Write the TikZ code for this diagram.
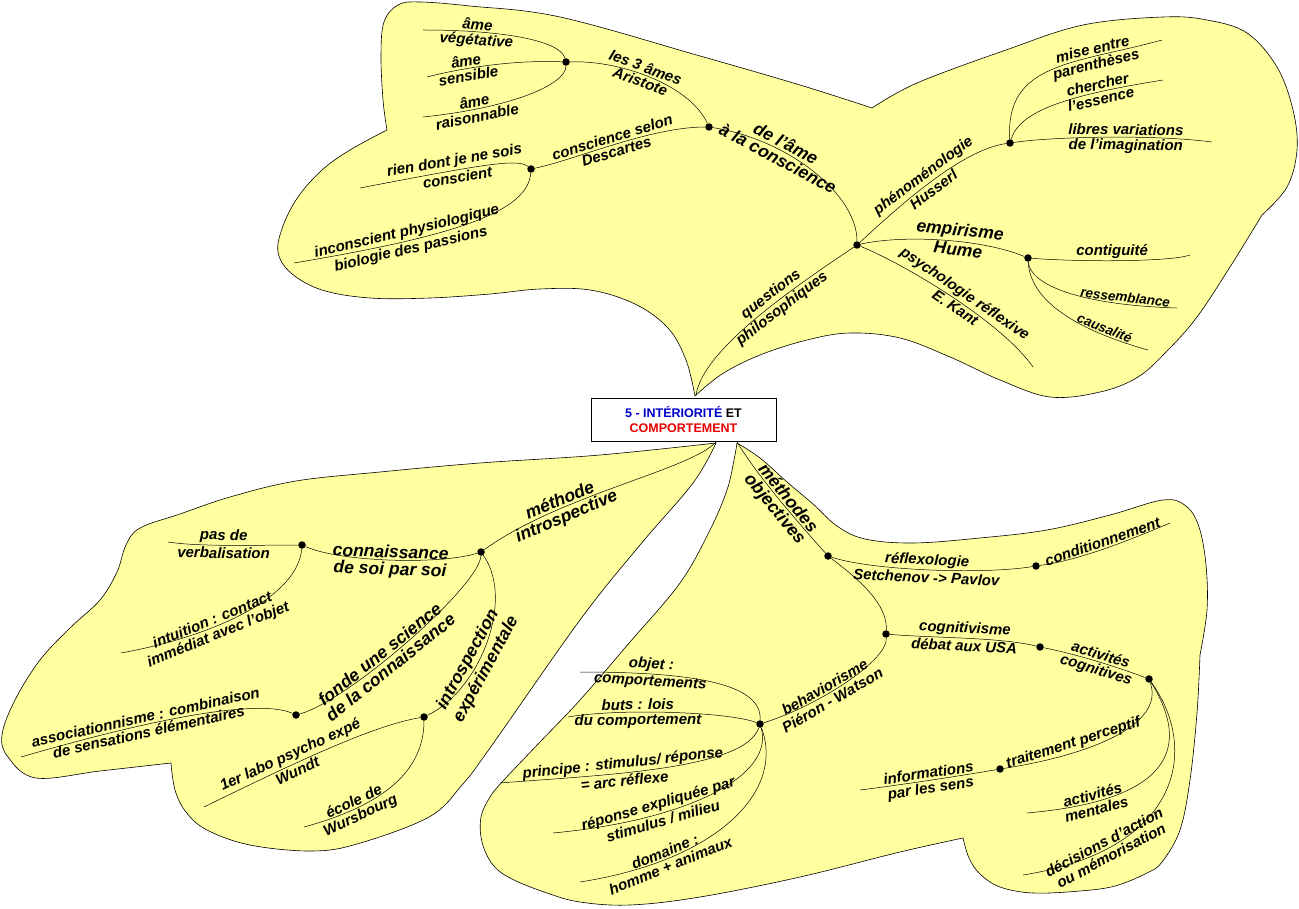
\documentclass[tikz,border=0pt]{standalone}
\usepackage{fontspec}
\setmainfont{Liberation Sans}

\definecolor{blobyellow}{RGB}{255,255,160}
\definecolor{titleblue}{RGB}{0,0,204}
\definecolor{titlered}{RGB}{230,0,0}
\newcommand{\lbl}{\fontsize{15}{16}\selectfont\bfseries\itshape}
\newcommand{\lblbig}{\fontsize{17.5}{18}\selectfont\bfseries\itshape}
\newcommand{\lblsmall}{\fontsize{13.5}{14}\selectfont\bfseries\itshape}

\begin{document}
\begin{tikzpicture}[x=1pt, y=-1pt,
  blob/.style={draw=black, fill=blobyellow, line width=0.6pt},
  branch/.style={line width=0.5pt},
  dot/.style={circle, fill=black, inner sep=0pt, minimum size=7.5pt},
  txtup/.style={sloped, above, inner sep=1.8pt, font=\lbl},
  txtdn/.style={sloped, below, inner sep=1.8pt, font=\lbl},
  big/.style={font=\lblbig},
  small/.style={font=\lblsmall}]
  \useasboundingbox (0,0) rectangle (1299,909);

  % yellow areas
  \filldraw[blob] plot[smooth, tension=0.6] coordinates {(695,396) (686,360) (668,328) (635,304) (590,290) (540,289) (490,294) (430,298) (370,298) (322,290) (291,273) (278,252) (283,226) (298,197) (322,170) (350,150) (387,130)}
    -- plot[smooth, tension=0.6] coordinates {(387,130) (383,100) (381,55) (384,22) (398,5) (420,2) (470,6) (560,17) (700,56) (800,85) (872,108)}
    -- plot[smooth, tension=0.6] coordinates {(872,108) (917,83) (1006,50) (1083,25) (1163,17) (1207,20) (1247,33) (1277,67) (1293,110) (1297,150) (1287,187) (1262,215)}
    -- plot[smooth, tension=0.6] coordinates {(1262,215) (1230,267) (1197,317) (1168,350) (1138,377) (1100,392) (1050,397) (1000,380) (950,357) (900,338) (850,333) (807,340) (760,355) (722,374) (695,396)} -- cycle;
  \filldraw[blob] plot[smooth, tension=0.6] coordinates {(716,443) (600,455) (480,463) (380,472) (296,481) (230,497) (180,514) (140,528) (126,545) (117,572) (100,600) (70,628) (40,660) (15,700) (2,735) (8,757) (36,778) (100,771) (171,763)}
    -- plot[smooth, tension=0.6] coordinates {(171,763) (175,790) (186,812) (207,830) (250,845) (311,851) (357,844) (429,817) (462,785) (490,748) (580,620) (640,545) (693,483) (716,443)} -- cycle;
  \filldraw[blob] plot[smooth, tension=0.6] coordinates {(737,443) (760,458) (787,482) (813,504) (837,526) (865,539) (913,543) (980,538) (1047,530) (1110,515) (1163,500) (1186,506) (1199,527) (1206,565) (1207,610) (1200,655)}
    -- plot[smooth, tension=0.6] coordinates {(1200,655) (1197,713) (1190,780) (1180,830) (1162,862) (1147,873) (1115,886) (1080,891) (1033,893) (1000,887) (980,874) (969,858) (963,838)}
    -- plot[smooth, tension=0.6] coordinates {(963,838) (900,852) (800,877) (700,897) (630,905) (580,902) (547,893) (512,879) (493,865) (482,842) (481,817) (490,797) (503,781) (540,742) (580,700) (630,642) (680,583) (710,530) (727,490) (734,460) (737,443)} -- cycle;

  \node[draw, fill=white, minimum width=185pt, minimum height=43pt, align=center,
    font=\fontsize{12.5}{15}\selectfont\bfseries] (title) at (683.5,419.5)
    {\textcolor{titleblue}{5 - INTÉRIORITÉ} ET\\\textcolor{titlered}{COMPORTEMENT}};

  % junctions
  \node[dot] (ames) at (566,62) {};
  \node[dot] (consc) at (709,127) {};
  \node[dot] (philo) at (857,245) {};
  \node[dot] (desc) at (531,169) {};
  \node[dot] (huss) at (1010,143) {};
  \node[dot] (hume) at (1028,258) {};
  \node[dot] (intro) at (481,552) {};
  \node[dot] (soi) at (302,545) {};
  \node[dot] (fonde) at (296,715) {};
  \node[dot] (expe) at (424,717) {};
  \node[dot] (obj) at (828,556) {};
  \node[dot] (cond) at (1036,566) {};
  \node[dot] (behav) at (886,634) {};
  \node[dot] (cogn) at (1040,647) {};
  \node[dot] (act) at (1149,679) {};
  \node[dot] (trait) at (1000,769) {};
  \node[dot] (pieron) at (760,724) {};

  % free ends
  \coordinate (qtip) at (696,395);
  \coordinate (itip) at (716,442);
  \coordinate (otip) at (737,442);
  \coordinate (vege) at (423,30);
  \coordinate (sens) at (427,77);
  \coordinate (rais) at (423,117);
  \coordinate (rien) at (360,188);
  \coordinate (incon) at (294,263);
  \coordinate (mise) at (1162,40);
  \coordinate (cherch) at (1163,80);
  \coordinate (libres) at (1212,142);
  \coordinate (kant) at (1033,367);
  \coordinate (contig) at (1190,255);
  \coordinate (ressem) at (1177,308);
  \coordinate (causal) at (1148,350);
  \coordinate (pasde) at (168,542);
  \coordinate (intuit) at (121,653);
  \coordinate (assoc) at (21,757);
  \coordinate (wundt) at (204,807);
  \coordinate (wurs) at (304,827);
  \coordinate (condit) at (1170,523);
  \coordinate (infos) at (860,790);
  \coordinate (ment) at (1027,813);
  \coordinate (decis) at (1023,875);
  \coordinate (objet) at (580,672);
  \coordinate (buts) at (568,717);
  \coordinate (princ) at (500,783);
  \coordinate (repon) at (553,833);
  \coordinate (domaine) at (580,882);

  % upper area
  \draw[branch] (qtip) .. controls (703,350) and (790,290) .. (philo)
    node[txtup,pos=0.62]{questions} node[txtdn,pos=0.62]{philosophiques};
  \draw[branch] (philo) .. controls (857,195) and (790,140) .. (consc)
    node[txtup,big,pos=0.68]{de l'âme} node[txtdn,big,pos=0.68]{à la conscience};
  \draw[branch] (ames) .. controls (620,60) and (690,85) .. (consc)
    node[txtup,pos=0.45]{les 3 âmes} node[txtdn,pos=0.45]{Aristote};
  \draw[branch] (desc) .. controls (575,160) and (650,127) .. (consc)
    node[txtup,pos=0.5]{conscience selon} node[txtdn,pos=0.5]{Descartes};
  \draw[branch] (ames) .. controls (560,40) and (500,30) .. (vege)
    node[txtup,pos=0.75]{âme} node[txtdn,pos=0.75]{végétative};
  \draw[branch] (ames) .. controls (520,60) and (470,66) .. (sens)
    node[txtup,pos=0.7]{âme} node[txtdn,pos=0.7]{sensible};
  \draw[branch] (ames) .. controls (566,85) and (510,108) .. (rais)
    node[txtup,pos=0.78]{âme} node[txtdn,pos=0.78]{raisonnable};
  \draw[branch] (desc) .. controls (518,158) and (480,165) .. (rien)
    node[txtup,pos=0.66]{rien dont je ne sois} node[txtdn,pos=0.66]{conscient};
  \draw[branch] (desc) .. controls (528,212) and (455,236) .. (incon)
    node[txtup,pos=0.72]{inconscient physiologique} node[txtdn,pos=0.72]{biologie des passions};
  \draw[branch] (philo) .. controls (895,210) and (960,150) .. (huss)
    node[txtup,pos=0.5]{phénoménologie} node[txtdn,pos=0.5]{Husserl};
  \draw[branch] (huss) .. controls (1005,62) and (1075,64) .. (mise)
    node[txtup,pos=0.72]{mise entre} node[txtdn,pos=0.72]{parenthèses};
  \draw[branch] (huss) .. controls (1020,110) and (1070,95) .. (cherch)
    node[txtup,pos=0.74]{chercher} node[txtdn,pos=0.74]{l'essence};
  \draw[branch] (huss) .. controls (1050,137) and (1150,134) .. (libres)
    node[txtup,pos=0.6]{libres variations} node[txtdn,pos=0.6]{de l'imagination};
  \draw[branch] (philo) .. controls (900,235) and (980,238) .. (hume)
    node[txtup,big,pos=0.6]{empirisme} node[txtdn,big,pos=0.6]{Hume};
  \draw[branch] (philo) .. controls (900,262) and (1000,320) .. (kant)
    node[txtup,pos=0.55]{psychologie réflexive} node[txtdn,pos=0.55]{E. Kant};
  \draw[branch] (hume) .. controls (1080,262) and (1170,262) .. (contig)
    node[txtup,pos=0.45]{contiguité};
  \draw[branch] (hume) .. controls (1030,285) and (1080,305) .. (ressem)
    node[txtup,small,pos=0.8]{ressemblance};
  \draw[branch] (hume) .. controls (1030,298) and (1070,328) .. (causal)
    node[txtup,small,pos=0.78]{causalité};

  % lower left area
  \draw[branch] (itip) .. controls (690,470) and (560,495) .. (intro)
    node[txtup,big,pos=0.7]{méthode} node[txtdn,big,pos=0.7]{introspective};
  \draw[branch] (intro) .. controls (440,565) and (340,562) .. (soi)
    node[txtup,big,pos=0.5]{connaissance} node[txtdn,big,pos=0.5]{de soi par soi};
  \draw[branch] (soi) .. controls (260,545) and (200,547) .. (pasde)
    node[txtup,pos=0.55]{pas de} node[txtdn,pos=0.55]{verbalisation};
  \draw[branch] (soi) .. controls (298,595) and (220,635) .. (intuit)
    node[txtup,pos=0.65]{intuition : contact} node[txtdn,pos=0.65]{immédiat avec l'objet};
  \draw[branch] (intro) .. controls (480,585) and (350,700) .. (fonde)
    node[txtup,big,pos=0.6]{fonde une science} node[txtdn,big,pos=0.6]{de la connaissance};
  \draw[branch] (intro) .. controls (515,600) and (480,690) .. (expe)
    node[txtup,big,pos=0.62]{introspection} node[txtdn,big,pos=0.62]{expérimentale};
  \draw[branch] (fonde) .. controls (270,703) and (200,705) .. (assoc)
    node[txtup,pos=0.72]{associationnisme : combinaison} node[txtdn,pos=0.72]{de sensations élémentaires};
  \draw[branch] (expe) .. controls (375,725) and (300,760) .. (wundt)
    node[txtup,pos=0.66]{1er labo psycho expé} node[txtdn,pos=0.66]{Wundt};
  \draw[branch] (expe) .. controls (424,770) and (385,805) .. (wurs)
    node[txtup,pos=0.75]{école de} node[txtdn,pos=0.75]{Wursbourg};

  % lower right area
  \draw[branch] (otip) .. controls (760,480) and (805,530) .. (obj)
    node[txtup,big,pos=0.5]{méthodes} node[txtdn,big,pos=0.5]{objectives};
  \draw[branch] (obj) .. controls (870,570) and (980,575) .. (cond)
    node[txtup,pos=0.5]{réflexologie} node[txtdn,pos=0.5]{Setchenov -> Pavlov};
  \draw[branch] (cond) .. controls (1080,560) and (1130,540) .. (condit)
    node[txtup,pos=0.5]{conditionnement};
  \draw[branch] (obj) .. controls (860,580) and (888,605) .. (behav);
  \draw[branch] (behav) .. controls (888,660) and (820,705) .. (pieron)
    node[txtup,pos=0.62]{behaviorisme} node[txtdn,pos=0.62]{Piéron - Watson};
  \draw[branch] (behav) .. controls (930,638) and (1000,637) .. (cogn)
    node[txtup,pos=0.5]{cognitivisme} node[txtdn,pos=0.5]{débat aux USA};
  \draw[branch] (cogn) .. controls (1080,655) and (1120,668) .. (act)
    node[txtup,pos=0.5]{activités} node[txtdn,pos=0.5]{cognitives};
  \draw[branch] (act) .. controls (1165,725) and (1090,755) .. (trait)
    node[txtup,pos=0.7]{traitement perceptif};
  \draw[branch] (trait) .. controls (960,776) and (900,785) .. (infos)
    node[txtup,pos=0.5]{informations} node[txtdn,pos=0.5]{par les sens};
  \draw[branch] (act) .. controls (1190,745) and (1175,800) .. (ment)
    node[txtup,pos=0.82]{activités} node[txtdn,pos=0.82]{mentales};
  \draw[branch] (act) .. controls (1200,750) and (1180,850) .. (decis)
    node[txtup,pos=0.78]{décisions d'action} node[txtdn,pos=0.78]{ou mémorisation};
  \draw[branch] (pieron) .. controls (762,685) and (700,672) .. (objet)
    node[txtup,pos=0.78]{objet :} node[txtdn,pos=0.78]{comportements};
  \draw[branch] (pieron) .. controls (730,712) and (620,708) .. (buts)
    node[txtup,pos=0.65]{buts : lois} node[txtdn,pos=0.65]{du comportement};
  \draw[branch] (pieron) .. controls (745,770) and (600,775) .. (princ)
    node[txtup,pos=0.62]{principe : stimulus/ réponse} node[txtdn,pos=0.62]{= arc réflexe};
  \draw[branch] (pieron) .. controls (775,775) and (690,820) .. (repon)
    node[txtup,pos=0.7]{réponse expliquée par} node[txtdn,pos=0.7]{stimulus / milieu};
  \draw[branch] (pieron) .. controls (785,790) and (720,860) .. (domaine)
    node[txtup,pos=0.76]{domaine :} node[txtdn,pos=0.76]{homme + animaux};
\end{tikzpicture}
\end{document}
